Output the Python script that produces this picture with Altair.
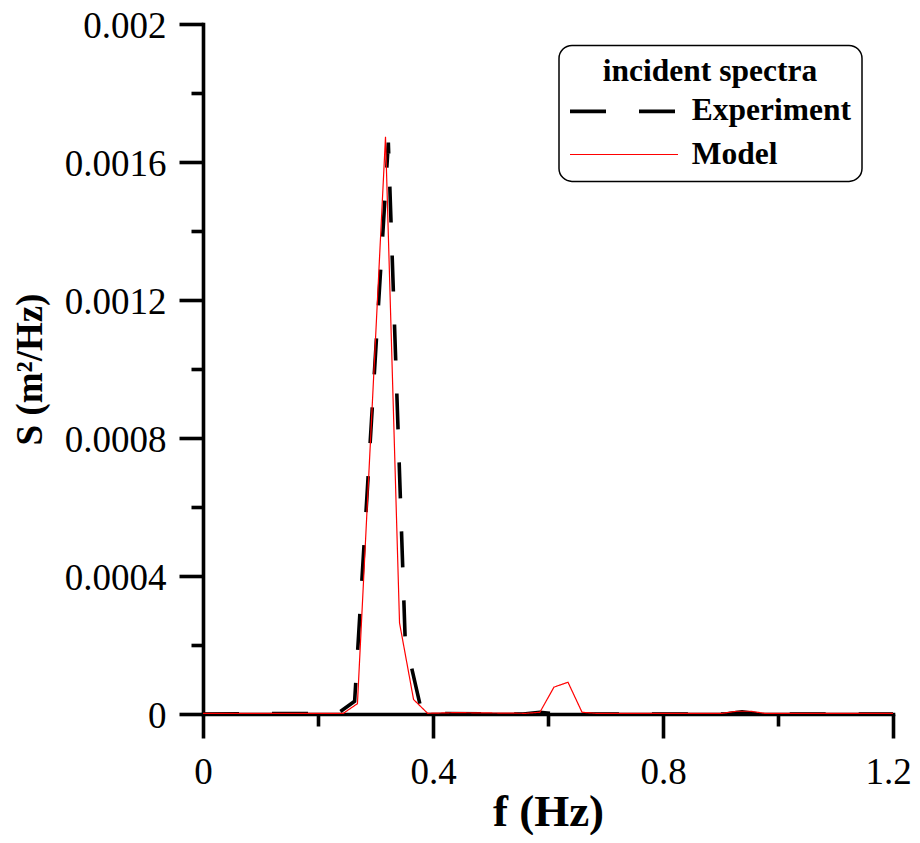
import altair as alt
import pandas as pd

FONT = "Liberation Serif"

series_names = ["Experiment", "Model"]

# Experiment (black dashed)
exp_f = [0.0, 0.2344, 0.2637, 0.2930, 0.3223, 0.3516, 0.3809, 0.5566, 0.5859, 0.6152,
         0.9082, 0.9375, 0.9668, 1.2]
exp_s = [0.0, 0.000002, 0.000037, 0.00085, 0.001656, 0.000216, 0.000002, 0.0, 0.000005, 0.0,
         0.0, 0.000006, 0.0, 0.0]

# Model (red solid)
mod_f = [0.0, 0.2441, 0.2686, 0.2930, 0.3174, 0.3418, 0.3662, 0.3906, 0.4395, 0.5615,
         0.5859, 0.6104, 0.6348, 0.6592, 0.6836, 0.9033, 0.9277, 0.9521, 0.9766, 1.2]
mod_s = [0.000002, 0.000002, 0.00003, 0.00085, 0.001673, 0.000264, 0.000042, 0.000002, 0.000004, 0.000002,
         0.000005, 0.000078, 0.000092, 0.000005, 0.000002, 0.000002, 0.000008, 0.000008, 0.000002, 0.000002]

x_major = [0, 0.4, 0.8, 1.2]
x_last = [1.2]
x_minor = [0.2, 0.6, 1.0]
y_major = [0, 0.0004, 0.0008, 0.0012, 0.0016, 0.002]
y_minor = [0.0002, 0.0006, 0.001, 0.0014, 0.0018]

df = pd.DataFrame({
    "f": exp_f + mod_f,
    "S": exp_s + mod_s,
    "series": [series_names[0]] * len(exp_f) + [series_names[1]] * len(mod_f),
})

xscale = alt.Scale(domain=[0, 1.2], nice=False, zero=False)
yscale = alt.Scale(domain=[0, 0.002], nice=False)

AXW = 3.6

legend = alt.Legend(
    title="incident spectra",
    orient="none", legendX=356, legendY=21.4,
    titleFont=FONT, titleFontSize=31.5, titleFontWeight="bold", titleColor="black",
    titleAnchor="middle", titleLimit=600, titlePadding=7.75,
    labelFont=FONT, labelFontSize=31.5, labelFontWeight="bold", labelColor="black",
    labelLimit=600,
    symbolType="M-4,0H4", symbolSize=729, symbolOffset=38.25, labelOffset=52,
    rowPadding=10.1, padding=11, strokeColor="black", cornerRadius=13, fillColor="white",
)

lines = alt.Chart(df).mark_line().encode(
    x=alt.X("f:Q", scale=xscale, axis=alt.Axis(
        values=x_major, format="~g", title="f (Hz)", grid=False,
        labelExpr="datum.value >= 1.19 ? '' : datum.label",
        domainColor="black", domainWidth=AXW, domainCap="square",
        tickColor="black", tickWidth=AXW, tickSize=24,
        labelFont=FONT, labelFontSize=37, labelColor="black", labelPadding=16,
        labelFlush=False, labelOverlap=False,
        titleFont=FONT, titleFontSize=45, titleFontWeight="bold", titleColor="black",
        titleX=345, titleY=111.5, titleBaseline="alphabetic", titleAlign="center")),
    y=alt.Y("S:Q", scale=yscale, axis=alt.Axis(
        values=y_major, format="~g", title="S (m²/Hz)", grid=False,
        domainColor="black", domainWidth=AXW, domainCap="square",
        tickColor="black", tickWidth=AXW, tickSize=24,
        labelFont=FONT, labelFontSize=37, labelColor="black", labelPadding=13,
        labelFlush=False, labelOverlap=False, labelOffset=2,
        titleFont=FONT, titleFontSize=37, titleFontWeight="bold", titleColor="black",
        titleX=-162, titleY=345, titleAngle=270, titleBaseline="alphabetic", titleAlign="center")),
    color=alt.Color("series:N", scale=alt.Scale(domain=series_names, range=["black", "red"]), legend=legend),
    strokeDash=alt.StrokeDash("series:N", scale=alt.Scale(domain=series_names, range=[[36, 33], [1, 0]]), legend=legend),
    strokeWidth=alt.StrokeWidth("series:N", scale=alt.Scale(domain=series_names, range=[3.6, 1.2]), legend=legend),
)

minor = alt.Chart(df).mark_point(opacity=0).encode(
    x=alt.X("f:Q", scale=xscale, axis=alt.Axis(
        values=x_minor, labels=False, domain=False, grid=False, tickSize=12,
        tickWidth=AXW, tickColor="black", title=None, orient="bottom")),
    y=alt.Y("S:Q", scale=yscale, axis=alt.Axis(
        values=y_minor, labels=False, domain=False, grid=False, tickSize=12,
        tickWidth=AXW, tickColor="black", title=None, orient="left")),
)

# last x label, nudged left so it is not clipped at the page edge
last_label = alt.Chart(df).mark_point(opacity=0).encode(
    x=alt.X("f:Q", scale=xscale, axis=alt.Axis(
        values=x_last, format=".1f", domain=False, grid=False, tickSize=24,
        tickWidth=AXW, tickOpacity=0, title=None, orient="bottom",
        labelFont=FONT, labelFontSize=37, labelColor="black", labelPadding=16,
        labelFlush=False, labelOverlap=False, labelOffset=-5)),
    y=alt.Y("S:Q", scale=yscale, axis=None),
)

chart = alt.layer(lines, minor, last_label).resolve_axis(x="independent", y="independent").properties(
    width=690, height=690,
    padding={"left": 195, "top": 16, "right": 19, "bottom": 121},
    autosize=alt.AutoSizeParams(type="none"),
).configure_view(stroke=None).configure_legend(strokeWidth=1.5)

chart.save("out.html", embed_options={"renderer": "svg", "actions": False})
